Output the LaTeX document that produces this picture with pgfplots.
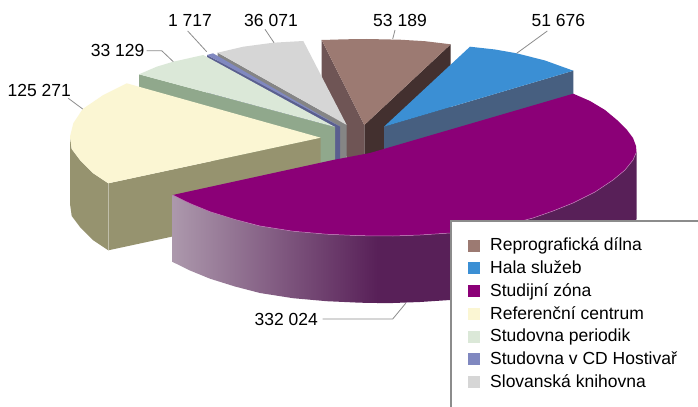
\documentclass[border=0pt]{standalone}
\usepackage{fontspec}
\setmainfont{Liberation Sans}
\usepackage{pgfplots}
\pgfplotsset{compat=1.18}
\definecolor{brT}{HTML}{9C7A72}\definecolor{brL}{HTML}{6F5555}\definecolor{brR}{HTML}{43302F}
\definecolor{blT}{HTML}{3B8FD4}\definecolor{blS}{HTML}{475F80}
\definecolor{puT}{HTML}{8B0077}\definecolor{puD}{HTML}{582058}\definecolor{puL}{HTML}{AC98AC}\definecolor{puE}{HTML}{C080B8}
\definecolor{yeT}{HTML}{FBF6D3}\definecolor{yeS}{HTML}{96936F}
\definecolor{grT}{HTML}{DBE8D8}\definecolor{grS}{HTML}{90A88C}
\definecolor{cdT}{HTML}{8088C0}\definecolor{cdS}{HTML}{5A5F8F}
\definecolor{gyT}{HTML}{D6D6D6}\definecolor{gyS}{HTML}{858585}
\definecolor{lead}{HTML}{8C8C8C}
\begin{document}
\begin{tikzpicture}
\begin{axis}[
  width=698bp,height=407bp,scale only axis,
  xmin=0,xmax=698,ymin=0,ymax=407,y dir=reverse,hide axis,
  legend cell align=left,
  legend image code/.code={\fill[#1,draw=none] (0bp,-1bp) rectangle (12bp,11bp);\path[draw=none,fill=none] (0bp,0bp) -- (22.3bp,0bp);},
  legend style={at={(axis cs:467.7,237.5)},anchor=north west,draw=none,fill=none,
    font=\fontsize{17.5bp}{20bp}\selectfont,row sep=8.5bp,inner sep=0pt,
    nodes={inner sep=0bp,anchor=base west}},
]
\addplot[fill=white,draw=none,forget plot] coordinates {(0,0)(698,0)(698,407)(0,407)};
% brown
\addplot[fill=brR,draw=none,forget plot] coordinates {(450.7,44.3)(364.3,125)(364.3,192)(450.7,111.3)};
\addplot[fill=brL,draw=none,forget plot] coordinates {(321.7,40)(364.3,125)(364.3,192)(321.7,107)};
\addplot[fill=brT,draw=none,forget plot] coordinates {(321.7,40)(345,39.3)(366.7,39)(400,39.7)(425,41.2)(450.7,44.3)(364.3,125)};
% blue
\addplot[fill=blS,draw=none,forget plot] coordinates {(573.3,70.7)(384,126.7)(384,193.7)(573.3,137.7)};
\addplot[fill=blT,draw=none,forget plot] coordinates {(470,46.7)(495,49.5)(516.7,53.3)(545,60.5)(573.3,70.7)(384,126.7)};
% grey
\addplot[fill=gyS,draw=none,forget plot] coordinates {(217.7,52.7)(346.7,125)(346.7,192)(217.7,119.7)};
\addplot[fill=gyT,draw=none,forget plot] coordinates {(217.7,52.7)(243.3,46.7)(273.3,42.7)(303.3,41)(346.7,125)};
% studovna v CD
\addplot[fill=cdS,draw=none,forget plot] coordinates {(207,55)(340,126.5)(340,193.5)(207,122)};
\addplot[fill=cdT,draw=none,forget plot] coordinates {(207,55)(213,53.3)(340,126.5)};
% green
\addplot[fill=grS,draw=none,forget plot] coordinates {(139,74.3)(335,127)(335,194)(139,141.3)};
\addplot[fill=grT,draw=none,forget plot] coordinates {(139,74.3)(156.7,66.7)(173.3,61.7)(203.3,55)(335,127)};
% yellow
\addplot[fill=yeS,draw=none,forget plot] coordinates {(70,136.7)(71.7,149)(80,160)(93.3,173.3)(108.3,183.3)(320.7,137.7)(320.7,204.7)(108.3,250.3)(93.3,240.3)(80,227)(71.7,216)(70,203.7)};
\addplot[color=yeS!60!white,line width=0.5bp,forget plot] coordinates {(108.3,183.3)(108.3,250.3)};
\addplot[fill=yeT,draw=none,forget plot] coordinates {(126.7,83.3)(103.3,95)(82.7,109)(73.3,123.3)(70,136.7)(71.7,149)(80,160)(93.3,173.3)(108.3,183.3)(320.7,137.7)};
% purple side
\addplot[fill=puD,draw=none,forget plot] coordinates {(377,236)(393,236)(420,235)(450,233)(480,229.5)(510,224)(533,218)(553,211)(573,203)(595,192)(613,180)(625,170)(633,160)(636.5,152)(636.5,219)(633,227)(625,237)(613,247)(595,259)(573,270)(553,278)(533,285)(510,291)(480,296.5)(450,300)(420,302)(393,303)(377,303)};
\addplot[left color=puL,right color=puD,draw=none,forget plot] coordinates {(172.7,195)(190,203.5)(210,211.7)(235,219.5)(260,226)(293,231.2)(326.7,234.2)(360,235.7)(377.5,236)(377.5,303)(360,302.7)(326.7,301.2)(293,298.2)(260,293)(235,286.5)(210,278.7)(190,270.5)(172.7,262)};
% purple top
\addplot[fill=puT,draw=none,forget plot] coordinates {(573.3,93.7)(590,101)(605,110)(617,120)(627,130)(633,138)(636,146)(636.5,152)(633,160)(625,170)(613,180)(595,192)(573,203)(553,211)(533,218)(510,224)(480,229.5)(450,233)(420,235)(393,236)(360,235.7)(326.7,234.2)(293,231.2)(260,226)(235,219.5)(210,211.7)(190,203.5)(172.7,195)(333,160)(370,153)};
\addplot[color=puE,line width=0.5bp,forget plot] coordinates {(636.5,152)(633,160)(625,170)(613,180)(595,192)(573,203)(553,211)(533,218)(510,224)(480,229.5)(450,233)(420,235)(393,236)(360,235.7)(326.7,234.2)(293,231.2)(260,226)(235,219.5)(210,211.7)(190,203.5)(172.7,195)};
% leaders
\addplot[color=lead,line width=0.8bp,forget plot] coordinates {(68.3,98.3)(82.7,109)};
\addplot[color=lead,line width=0.8bp,forget plot] coordinates {(146.7,50.7)(161.7,50.7)(173.3,61.7)};
\addplot[color=lead,line width=0.8bp,forget plot] coordinates {(187.7,31)(206.7,51.7)};
\addplot[color=lead,line width=0.8bp,forget plot] coordinates {(265,29.3)(274,42.7)};
\addplot[color=lead,line width=0.8bp,forget plot] coordinates {(395,30)(392.7,39)};
\addplot[color=lead,line width=0.8bp,forget plot] coordinates {(547.3,31)(516.7,53.3)};
\addplot[color=lead,line width=0.8bp,forget plot] coordinates {(322.7,319)(392.7,319)(405.7,303.3)};
% legend box
\addplot[fill=white,draw=none,forget plot] coordinates {(450,407)(450,220)(698,220)(698,407)};
\addplot[color=lead,line width=2bp,forget plot] coordinates {(450.5,407)(450.5,220.5)(698,220.5)};
% legend entries
\addlegendimage{fill=brT}\addlegendentry{Reprografická dílna}
\addlegendimage{fill=blT}\addlegendentry{Hala služeb}
\addlegendimage{fill=puT}\addlegendentry{Studijní zóna}
\addlegendimage{fill=yeT}\addlegendentry{Referenční centrum}
\addlegendimage{fill=grT}\addlegendentry{Studovna periodik}
\addlegendimage{fill=cdT}\addlegendentry{Studovna v CD Hostivař}
\addlegendimage{fill=gyT}\addlegendentry{Slovanská knihovna}
% labels
\begin{scope}[every node/.style={font=\fontsize{17.5bp}{20bp}\selectfont,inner sep=0pt,text=black}]
\node[anchor=east] at (axis cs:71,90) {125 271};
\node[anchor=east] at (axis cs:144.5,50) {33 129};
\node at (axis cs:190,20.7) {1 717};
\node at (axis cs:271,20.7) {36 071};
\node at (axis cs:400,20.7) {53 189};
\node at (axis cs:558.3,20.7) {51 676};
\node[anchor=east] at (axis cs:318,319.3) {332 024};
\end{scope}
\end{axis}
\end{tikzpicture}
\end{document}
